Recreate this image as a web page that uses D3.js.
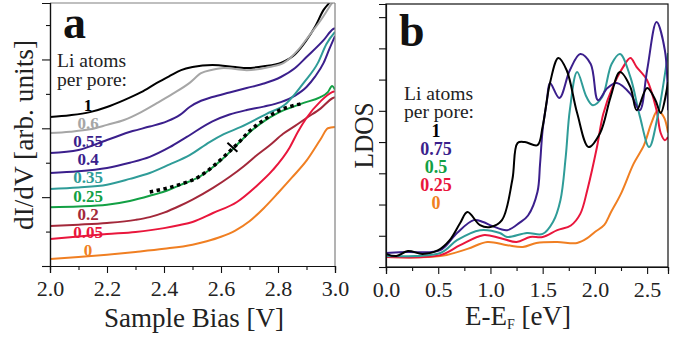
<!DOCTYPE html>
<html>
<head>
<meta charset="utf-8">
<script src="https://cdn.jsdelivr.net/npm/d3@7"></script>
<style>
  body { margin: 0; background: #fff; }
  svg { display: block; }
</style>
</head>
<body>
<svg id="chart" width="677" height="338"></svg>
<script>
// ---- panel a: dI/dV spectra, [bias V, arb. units]
const sts_1    = [[2.0,4.33],[2.07,4.38],[2.14,4.47],[2.2,4.62],[2.26,4.82],[2.32,5.05],[2.375,5.32],[2.42,5.52],[2.46,5.69],[2.5,5.78],[2.57,5.84],[2.65,5.78],[2.69,5.75],[2.75,5.8],[2.81,5.9],[2.86,6.15],[2.9,6.56],[2.93,6.95],[2.96,7.44],[2.985,7.7],[3.0,7.9]];
const sts_06   = [[2.0,3.86],[2.07,3.9],[2.14,3.97],[2.2,4.1],[2.26,4.24],[2.32,4.47],[2.375,4.73],[2.43,5.0],[2.49,5.32],[2.53,5.6],[2.57,5.7],[2.61,5.75],[2.69,5.69],[2.77,5.78],[2.82,5.9],[2.87,6.27],[2.91,6.7],[2.95,7.14],[2.99,7.64],[3.0,7.75]];
const sts_055  = [[2.0,3.28],[2.1,3.37],[2.2,3.66],[2.29,3.92],[2.35,4.05],[2.41,4.2],[2.456,4.39],[2.49,4.62],[2.53,4.8],[2.57,4.91],[2.63,5.04],[2.69,5.17],[2.75,5.3],[2.81,5.49],[2.86,5.75],[2.9,6.07],[2.96,6.56],[2.993,6.88],[3.0,6.91]];
const sts_04   = [[2.0,2.7],[2.1,2.75],[2.2,2.85],[2.28,3.0],[2.35,3.17],[2.42,3.45],[2.48,3.75],[2.57,4.2],[2.63,4.4],[2.69,4.53],[2.75,4.63],[2.81,4.76],[2.86,4.95],[2.9,5.2],[2.93,5.5],[2.96,5.9],[2.98,6.3],[3.0,6.68]];
const sts_035  = [[2.0,2.24],[2.1,2.28],[2.2,2.36],[2.28,2.53],[2.35,2.7],[2.42,2.95],[2.49,3.22],[2.56,3.6],[2.61,3.83],[2.67,4.04],[2.76,4.42],[2.83,4.73],[2.86,5.0],[2.89,5.32],[2.94,5.9],[2.97,6.45],[3.0,6.8]];
const sts_025  = [[2.0,1.71],[2.1,1.73],[2.2,1.78],[2.28,1.89],[2.35,2.04],[2.42,2.22],[2.456,2.35],[2.526,2.6],[2.57,2.86],[2.607,3.12],[2.656,3.52],[2.7,3.88],[2.75,4.2],[2.8,4.45],[2.85,4.62],[2.89,4.74],[2.947,4.9],[2.975,5.05],[2.99,5.23],[3.0,5.12]];
const sts_02   = [[2.0,1.16],[2.1,1.2],[2.2,1.25],[2.3,1.34],[2.35,1.42],[2.4,1.55],[2.456,1.75],[2.5,1.93],[2.572,2.27],[2.632,2.6],[2.68,2.9],[2.72,3.18],[2.77,3.5],[2.818,3.84],[2.86,4.07],[2.9,4.3],[2.95,4.58],[2.993,4.88],[3.0,4.9]];
const sts_005  = [[2.0,0.78],[2.1,0.86],[2.2,0.93],[2.3,0.99],[2.4,1.1],[2.456,1.19],[2.5,1.28],[2.572,1.54],[2.656,1.86],[2.72,2.29],[2.782,2.79],[2.84,3.43],[2.87,3.9],[2.9,4.3],[2.95,4.79],[2.99,5.05],[3.0,5.08]];
const sts_0    = [[2.0,0.2],[2.1,0.26],[2.2,0.33],[2.3,0.41],[2.4,0.5],[2.5,0.62],[2.55,0.72],[2.6,0.85],[2.65,1.03],[2.7,1.3],[2.75,1.68],[2.8,2.12],[2.85,2.58],[2.9,3.06],[2.95,3.69],[2.975,4.0],[3.0,4.04]];
const stsFit   = [[2.35,2.15],[2.4,2.24],[2.46,2.38],[2.52,2.58],[2.57,2.88],[2.62,3.25],[2.66,3.57],[2.7,3.92],[2.75,4.24],[2.8,4.5],[2.85,4.65],[2.89,4.73]];
const fitMark  = [2.64, 3.45];

const stsLabels = ['1', '0.6', '0.55', '0.4', '0.35', '0.25', '0.2', '0.05', '0'];
const stsColors = ['#000000', '#a6a6a6', '#3b1f8c', '#3b1f8c', '#2f9c98', '#12a044', '#a3283a', '#e9163c', '#f07f22'];
const stsData   = [sts_1, sts_06, sts_055, sts_04, sts_035, sts_025, sts_02, sts_005, sts_0];
const biasTicks = [2.0, 2.2, 2.4, 2.6, 2.8, 3.0];

// ---- panel b: calculated LDOS, [E-EF eV, arb.]
const ldos_1   = [[0,0.42],[0.1,0.35],[0.21,0.51],[0.35,0.42],[0.5,0.54],[0.61,0.86],[0.71,1.41],[0.78,1.76],[0.9,1.34],[1.0,1.28],[1.11,1.5],[1.21,2.8],[1.26,3.97],[1.33,4.0],[1.45,3.9],[1.5,4.5],[1.57,5.89],[1.65,6.69],[1.73,6.3],[1.83,4.93],[1.94,3.84],[2.05,4.29],[2.15,5.44],[2.24,6.24],[2.34,5.76],[2.4,5.02],[2.5,5.73],[2.58,5.34],[2.63,4.93],[2.7,5.92]];
const ldos_075 = [[0,0.45],[0.2,0.48],[0.52,0.54],[0.68,1.09],[0.84,1.5],[0.93,1.44],[1.02,1.31],[1.16,1.18],[1.28,1.42],[1.36,1.65],[1.45,2.4],[1.475,3.3],[1.5,4.4],[1.54,5.3],[1.57,5.89],[1.66,5.41],[1.76,6.3],[1.86,6.82],[1.96,6.5],[2.03,5.34],[2.12,5.73],[2.21,5.89],[2.34,5.54],[2.43,5.02],[2.5,6.3],[2.59,7.84],[2.67,6.94],[2.7,5.02]];
const ldos_05  = [[0,0.35],[0.52,0.45],[0.68,0.86],[0.9,1.18],[1.09,1.09],[1.16,0.96],[1.35,1.09],[1.5,1.06],[1.6,1.45],[1.67,2.14],[1.72,3.5],[1.76,5.02],[1.83,6.24],[1.92,5.44],[1.98,5.18],[2.07,5.44],[2.16,6.5],[2.24,6.82],[2.34,6.08],[2.43,4.83],[2.52,3.84],[2.6,4.8],[2.7,6.85]];
const ldos_025 = [[0,0.32],[0.52,0.38],[0.71,0.7],[0.93,1.02],[1.09,0.93],[1.25,0.8],[1.38,0.96],[1.5,0.96],[1.64,1.18],[1.77,1.33],[1.86,1.7],[1.93,2.5],[2.02,3.84],[2.08,4.9],[2.17,5.76],[2.27,6.4],[2.34,6.69],[2.4,6.4],[2.5,5.98],[2.59,5.02],[2.63,4.29],[2.67,4.06],[2.7,4.16]];
const ldos_0   = [[0,0.32],[0.52,0.35],[0.78,0.58],[0.97,0.8],[1.16,0.7],[1.31,0.64],[1.44,0.77],[1.64,0.8],[1.83,0.77],[1.93,0.93],[2.0,1.12],[2.09,1.35],[2.15,1.73],[2.25,2.35],[2.37,3.3],[2.47,3.9],[2.54,4.6],[2.6,5.0],[2.66,4.8],[2.7,4.3]];

const ldosLabels     = ['1', '0.75', '0.5', '0.25', '0'];
const ldosLineColors = ['#000000', '#3b1f8c', '#2f9c98', '#e9163c', '#f07f22'];
const ldosTextColors = ['#000000', '#3b1f8c', '#12a044', '#e9163c', '#f07f22'];
const ldosData       = [ldos_1, ldos_075, ldos_05, ldos_025, ldos_0];
const energyTicks    = [0.0, 0.5, 1.0, 1.5, 2.0, 2.5];

const SERIF = 'Liberation Serif, serif';
const svg = d3.select('#chart');

// helper for plain labels
function label(g, x, y, size, txt, len) {
  const t = g.append('text').attr('x', x).attr('y', y)
    .attr('font-family', SERIF).attr('font-size', size).attr('fill', '#222').text(txt);
  if (len) t.attr('textLength', len).attr('lengthAdjust', 'spacingAndGlyphs');
  return t;
}

// ================= panel a =================
const xA = d3.scaleLinear().domain([2.0, 3.0]).range([50, 335]);
const yA = d3.scaleLinear().domain([0, 7.64]).range([266, 3]);

svg.append('clipPath').attr('id', 'clipA')
  .append('rect').attr('x', 50).attr('y', 3).attr('width', 285).attr('height', 263);

const gA = svg.append('g');
const lineA = d3.line().x(d => xA(d[0])).y(d => yA(d[1])).curve(d3.curveMonotoneX);

gA.append('g').attr('clip-path', 'url(#clipA)')
  .selectAll('path.sts')
  .data(stsData)
  .enter().append('path')
  .attr('class', 'sts')
  .attr('d', lineA)
  .attr('fill', 'none')
  .attr('stroke', (d, i) => stsColors[i])
  .attr('stroke-width', 2);

// dotted fit on the 0.25 curve
gA.append('path')
  .attr('d', lineA(stsFit))
  .attr('fill', 'none')
  .attr('stroke', '#000')
  .attr('stroke-width', 3.5)
  .attr('stroke-dasharray', '3.5,3.5');

// small crossing mark at the inflection
gA.append('line')
  .attr('x1', xA(fitMark[0]) - 5).attr('y1', yA(fitMark[1]) - 4.5)
  .attr('x2', xA(fitMark[0]) + 5).attr('y2', yA(fitMark[1]) + 4.5)
  .attr('stroke', '#000').attr('stroke-width', 2);

// top / right frame (grey)
gA.append('line').attr('x1', 50).attr('y1', 3).attr('x2', 335).attr('y2', 3).attr('stroke', '#808080').attr('stroke-width', 1.2);
gA.append('line').attr('x1', 335).attr('y1', 3).attr('x2', 335).attr('y2', 266).attr('stroke', '#808080').attr('stroke-width', 1.2);

gA.append('g').attr('transform', 'translate(0,266)')
  .call(d3.axisBottom(xA).tickValues(biasTicks).tickSize(7).tickPadding(7).tickFormat(d3.format('.1f')));
gA.append('g').attr('transform', 'translate(0,266)')
  .call(d3.axisBottom(xA).tickValues([2.1, 2.3, 2.5, 2.7, 2.9]).tickSize(4).tickFormat(''));
gA.append('g').attr('transform', 'translate(50,0)')
  .call(d3.axisLeft(yA).tickValues([0, 2, 4, 6]).tickSize(8).tickFormat(''));
gA.append('g').attr('transform', 'translate(50,0)')
  .call(d3.axisLeft(yA).tickValues([1, 3, 5, 7]).tickSize(4).tickFormat(''));

gA.selectAll('text.lab')
  .data(stsLabels)
  .enter().append('text')
  .attr('x', 88)
  .attr('y', (d, i) => 111 + i * 18.1)
  .attr('text-anchor', 'middle')
  .attr('font-family', SERIF)
  .attr('font-weight', 'bold')
  .attr('font-size', 17)
  .attr('fill', (d, i) => stsColors[i])
  .text(d => d);

label(gA, 57, 67, 19, 'Li atoms', 69);
label(gA, 57, 86, 19, 'per pore:', 70);
label(gA, 63, 38, 46, 'a').attr('font-weight', 'bold').attr('fill', '#111');

label(gA, 0, 0, 27, 'dI/dV [arb. units]', 190)
  .attr('transform', 'translate(33,135) rotate(-90)')
  .attr('text-anchor', 'middle');

label(gA, 194, 327, 27, 'Sample Bias [V]', 180).attr('text-anchor', 'middle');

// ================= panel b =================
const xB = d3.scaleLinear().domain([0, 2.7]).range([386, 668]);
const yB = d3.scaleLinear().domain([0, 8.42]).range([267, 4]);

svg.append('clipPath').attr('id', 'clipB')
  .append('rect').attr('x', 386).attr('y', 4).attr('width', 282).attr('height', 263);

const gB = svg.append('g');
const lineB = d3.line().x(d => xB(d[0])).y(d => yB(d[1])).curve(d3.curveCatmullRom.alpha(0.5));

gB.append('g').attr('clip-path', 'url(#clipB)')
  .selectAll('path.ldos')
  .data(ldosData.slice().reverse())
  .enter().append('path')
  .attr('class', 'ldos')
  .attr('d', lineB)
  .attr('fill', 'none')
  .attr('stroke', (d, i) => ldosLineColors[ldosData.length - 1 - i])
  .attr('stroke-width', 2);

gB.append('rect').attr('x', 386).attr('y', 4).attr('width', 282).attr('height', 263)
  .attr('fill', 'none').attr('stroke', '#111').attr('stroke-width', 1.2);

gB.append('g').attr('transform', 'translate(0,267)')
  .call(d3.axisBottom(xB).tickValues(energyTicks).tickSize(7).tickPadding(7).tickFormat(d3.format('.1f')));
gB.append('g').attr('transform', 'translate(0,267)')
  .call(d3.axisBottom(xB).tickValues([0.25, 0.75, 1.25, 1.75, 2.25]).tickSize(4).tickFormat(''));
gB.append('g').attr('transform', 'translate(386,0)')
  .call(d3.axisLeft(yB).tickValues(d3.range(0, 9)).tickSize(7).tickFormat(''));

gB.selectAll('text.lab')
  .data(ldosLabels)
  .enter().append('text')
  .attr('x', 436)
  .attr('y', (d, i) => 137 + i * 18)
  .attr('text-anchor', 'middle')
  .attr('font-family', SERIF)
  .attr('font-weight', 'bold')
  .attr('font-size', 18)
  .attr('fill', (d, i) => ldosTextColors[i])
  .text(d => d);

label(gB, 404, 100, 19, 'Li atoms', 69);
label(gB, 404, 118, 19, 'per pore:', 70);
label(gB, 399, 46, 46, 'b').attr('font-weight', 'bold').attr('fill', '#111');

label(gB, 0, 0, 27, 'LDOS', 66)
  .attr('transform', 'translate(373,135.5) rotate(-90)')
  .attr('text-anchor', 'middle');

const xt = label(gB, 465, 325, 27, null);
xt.append('tspan').text('E-E');
xt.append('tspan').attr('font-size', 14).attr('dy', 4).text('F');
xt.append('tspan').attr('dy', -4).text(' [eV]');

// axis styling
svg.selectAll('.tick text').attr('font-size', 22).attr('fill', '#222').attr('font-family', SERIF);
svg.selectAll('.domain').attr('stroke', '#111').attr('stroke-width', 1.2);
svg.selectAll('.tick line').attr('stroke', '#111').attr('stroke-width', 1.1);
</script>
</body>
</html>
